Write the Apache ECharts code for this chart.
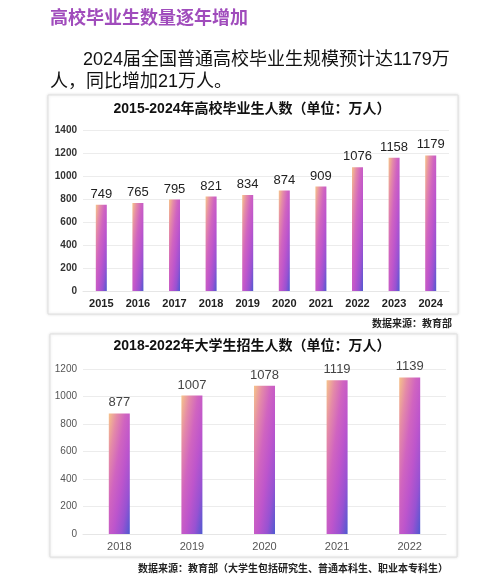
<!DOCTYPE html>
<html lang="zh">
<head>
<meta charset="UTF-8">
<title>高校毕业生数量逐年增加</title>
<script src="https://cdn.jsdelivr.net/npm/echarts@6/dist/echarts.min.js"></script>
<style>
    html, body { margin: 0; padding: 0; background: #ffffff; }
    #main { width: 500px; height: 582px; }
</style>
</head>
<body>
<div id="main"></div>
<script>
    // 毕业生人数 2015-2024
    var gradYears = ['2015', '2016', '2017', '2018', '2019', '2020', '2021', '2022', '2023', '2024'];
    var gradValues = [749, 765, 795, 821, 834, 874, 909, 1076, 1158, 1179];
    // 招生人数 2018-2022
    var enrollYears = ['2018', '2019', '2020', '2021', '2022'];
    var enrollValues = [877, 1007, 1078, 1119, 1139];

    var FONT = '"Liberation Sans", "Noto Sans CJK SC", sans-serif';
    var CJK = '"Noto Sans CJK SC", sans-serif';
    var BAR1 = 11, BAR2 = 21;

    var stops = [
        {offset: 0, color: '#f6c48a'},
        {offset: 0.2, color: '#e48aa8'},
        {offset: 0.4, color: '#d064c0'},
        {offset: 0.6, color: '#bd55cc'},
        {offset: 0.8, color: '#9852d2'},
        {offset: 1, color: '#4e5ad0'}
    ];

    // 按柱子宽高算出对角渐变（等色线沿反对角线，跟 PPT 的 45° 随形状缩放一样）
    function diag(w, h) {
        var s = h * h + w * w;
        if (!h) return stops[0].color;
        return new echarts.graphic.LinearGradient(0, 0, 2 * h * h / s, 2 * w * w / s, stops);
    }

    function plain(v) { return String(v); }

    var chart = echarts.init(document.getElementById('main'));
    var option = {
        backgroundColor: '#ffffff',
        animation: false,
        graphic: [
            {type: 'text', left: 50, top: 8, style: {text: '高校毕业生数量逐年增加', font: 'bold 18px ' + CJK, fill: '#a04cbc'}},
            {type: 'text', left: 83, top: 51, style: {text: '2024届全国普通高校毕业生规模预计达1179万', font: '18px ' + FONT, fill: '#111'}},
            {type: 'text', left: 50, top: 73, style: {text: '人，同比增加21万人。', font: '18px ' + FONT, fill: '#111'}},
            {type: 'rect', shape: {x: 48, y: 95, width: 410, height: 219}, style: {fill: '#fff', stroke: '#e0e0e0', lineWidth: 1, shadowBlur: 3, shadowColor: 'rgba(0,0,0,0.12)'}, z: -1},
            {type: 'text', x: 252, y: 102, style: {text: '2015-2024年高校毕业生人数（单位：万人）', font: 'bold 14px ' + FONT, fill: '#111', textAlign: 'center'}},
            {type: 'text', x: 452, y: 318, style: {text: '数据来源：教育部', font: 'bold 10px ' + CJK, fill: '#222', textAlign: 'right'}},
            {type: 'rect', shape: {x: 50, y: 334, width: 407, height: 223}, style: {fill: '#fff', stroke: '#e0e0e0', lineWidth: 1, shadowBlur: 3, shadowColor: 'rgba(0,0,0,0.12)'}, z: -1},
            {type: 'text', x: 252, y: 339, style: {text: '2018-2022年大学生招生人数（单位：万人）', font: 'bold 14px ' + FONT, fill: '#111', textAlign: 'center'}},
            {type: 'text', x: 448, y: 563, style: {text: '数据来源：教育部（大学生包括研究生、普通本科生、职业本专科生）', font: 'bold 10px ' + CJK, fill: '#222', textAlign: 'right'}}
        ],
        grid: [
            {left: 83, right: 51, top: 130, height: 161},
            {left: 83, right: 54, top: 369, height: 165}
        ],
        xAxis: [
            {
                type: 'category', gridIndex: 0, data: gradYears,
                axisLine: {lineStyle: {color: '#e6e6e6'}}, axisTick: {show: false},
                axisLabel: {color: '#222', fontSize: 11, fontWeight: 'bold', fontFamily: FONT, margin: 7}
            },
            {
                type: 'category', gridIndex: 1, data: enrollYears,
                axisLine: {lineStyle: {color: '#e6e6e6'}}, axisTick: {show: false},
                axisLabel: {color: '#555', fontSize: 11, fontFamily: FONT, margin: 7}
            }
        ],
        yAxis: [
            {
                type: 'value', gridIndex: 0, min: 0, max: 1400, interval: 200,
                axisLine: {show: false}, axisTick: {show: false},
                splitLine: {lineStyle: {color: '#ececec'}},
                axisLabel: {color: '#333', fontSize: 10, fontWeight: 'bold', fontFamily: FONT, margin: 6, formatter: plain}
            },
            {
                type: 'value', gridIndex: 1, min: 0, max: 1200, interval: 200,
                axisLine: {show: false}, axisTick: {show: false},
                splitLine: {lineStyle: {color: '#ececec'}},
                axisLabel: {color: '#555', fontSize: 10, fontFamily: FONT, margin: 6, formatter: plain}
            }
        ],
        series: [
            {
                type: 'bar', xAxisIndex: 0, yAxisIndex: 0, data: gradValues, barWidth: BAR1,
                itemStyle: {color: stops[3].color},
                label: {show: true, position: 'top', distance: 4, color: '#222', fontSize: 13, fontFamily: FONT}
            },
            {
                type: 'bar', xAxisIndex: 1, yAxisIndex: 1, data: enrollValues, barWidth: BAR2,
                itemStyle: {color: stops[3].color},
                label: {show: true, position: 'top', distance: 4, color: '#444', fontSize: 13, fontFamily: FONT}
            }
        ]
    };
    chart.setOption(option);

    // 第二遍：拿到每根柱子的像素高度后再上渐变色
    function withGradient(values, gridIndex, w) {
        return values.map(function (v, i) {
            var p0 = chart.convertToPixel({gridIndex: gridIndex}, [i, 0]);
            var p1 = chart.convertToPixel({gridIndex: gridIndex}, [i, v]);
            var h = Math.abs(p0[1] - p1[1]);
            return {value: v, itemStyle: {color: diag(w, h)}};
        });
    }
    chart.setOption({
        series: [
            {data: withGradient(gradValues, 0, BAR1)},
            {data: withGradient(enrollValues, 1, BAR2)}
        ]
    });
</script>
</body>
</html>
